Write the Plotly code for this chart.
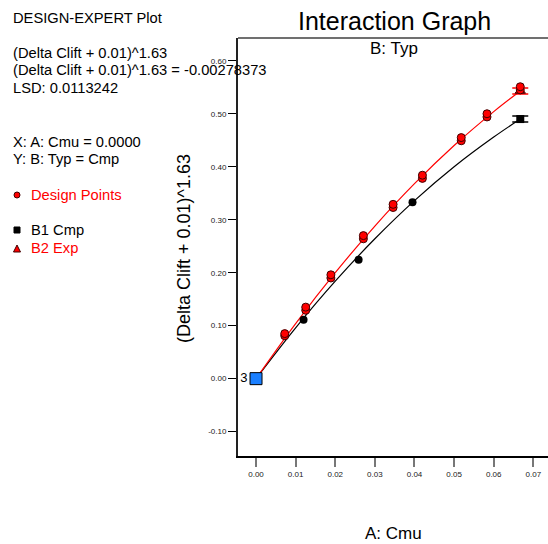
import plotly.graph_objects as go

# ---- data -----------------------------------------------------------------
# model prediction curves, response vs A: Cmu for each level of B: Typ
curve_cmu = [0.0, 0.01, 0.02, 0.03, 0.04, 0.05, 0.06, 0.0667]
curve_b1_cmp = [0.0, 0.096, 0.184, 0.264, 0.336, 0.400, 0.456, 0.490]
curve_b2_exp = [0.0, 0.104, 0.200, 0.288, 0.368, 0.440, 0.504, 0.543]

# design points (replicate runs)
b2_cmu = [0.00725, 0.00725, 0.01255, 0.01255, 0.0189, 0.0189, 0.0271, 0.0271,
          0.0346, 0.0346, 0.042, 0.042, 0.0518, 0.0518, 0.0583, 0.0583,
          0.0667, 0.0667]
b2_resp = [0.081, 0.085, 0.129, 0.135, 0.190, 0.196, 0.264, 0.270,
           0.323, 0.329, 0.378, 0.384, 0.449, 0.455, 0.494, 0.500,
           0.545, 0.551]
b1_cmu = [0.012, 0.0259, 0.0395]
b1_resp = [0.111, 0.2245, 0.333]

# centre point (3 replicates) and LSD bars at the end of each curve
center_cmu = [0.0]
center_resp = [0.0]
center_label = "3"
end_cmu = 0.0667
lsd = 0.0113242

y_ticks = [-0.10, 0.00, 0.10, 0.20, 0.30, 0.40, 0.50, 0.60]
x_ticks = [0.00, 0.01, 0.02, 0.03, 0.04, 0.05, 0.06, 0.07]

# ---- layout geometry (pixels) -------------------------------------------
W, H = 548, 544
L, R, T, B = 238, 0, 38, 88
PW, PH = W - L - R, H - T - B


def px(x):
    return (x - L) / PW


def py(y):
    return (H - B - y) / PH


FONT = "Liberation Sans, Arial, sans-serif"

fig = go.Figure()

# model curves
fig.add_trace(go.Scatter(x=curve_cmu, y=curve_b1_cmp, mode="lines",
                         line=dict(color="black", width=1.2, shape="spline"),
                         hoverinfo="skip"))
fig.add_trace(go.Scatter(x=curve_cmu, y=curve_b2_exp, mode="lines",
                         line=dict(color="red", width=1.2, shape="spline"),
                         hoverinfo="skip"))

# LSD bars at the last factor level
fig.add_trace(go.Scatter(x=[end_cmu], y=[curve_b1_cmp[-1]], mode="markers",
                         marker=dict(symbol="square", size=8, color="black"),
                         error_y=dict(type="constant", value=lsd / 2,
                                      color="black", thickness=1.5, width=8)))
fig.add_trace(go.Scatter(x=[end_cmu], y=[curve_b2_exp[-1]], mode="markers",
                         marker=dict(symbol="triangle-up", size=9, color="red",
                                     line=dict(color="#400000", width=1)),
                         error_y=dict(type="constant", value=lsd / 2,
                                      color="red", thickness=1.5, width=8)))

# design points
fig.add_trace(go.Scatter(x=b1_cmu, y=b1_resp, mode="markers",
                         marker=dict(symbol="circle", size=8, color="black")))
fig.add_trace(go.Scatter(x=b2_cmu, y=b2_resp, mode="markers",
                         marker=dict(symbol="circle", size=8, color="red",
                                     line=dict(color="#400000", width=1))))

# centre point
fig.add_trace(go.Scatter(x=center_cmu, y=center_resp, mode="markers+text",
                         text=[center_label], textposition="middle left",
                         textfont=dict(family=FONT, size=13, color="black"),
                         marker=dict(symbol="square", size=12, color="#1a7fff",
                                     line=dict(color="black", width=1))))

fig.update_layout(
    width=W, height=H,
    margin=dict(l=L, r=R, t=T, b=B, pad=0),
    paper_bgcolor="white", plot_bgcolor="white",
    showlegend=False,
    font=dict(family=FONT, color="black"),
    xaxis=dict(range=[-0.00455, 0.0737], tickvals=x_ticks,
               ticktext=[f"{v:.2f}" for v in x_ticks],
               tickfont=dict(size=8, color="#222"),
               ticks="outside", ticklen=9, tickwidth=2, tickcolor="#777",
               showline=True, linecolor="black", linewidth=2,
               showgrid=False, zeroline=False),
    yaxis=dict(range=[-0.146, 0.643], tickvals=y_ticks,
               ticktext=[f"{v:.2f}" for v in y_ticks],
               tickfont=dict(size=8, color="#222"),
               ticks="outside", ticklen=8, tickwidth=1, tickcolor="black",
               showline=True, linecolor="#222", linewidth=2,
               showgrid=False, zeroline=False),
)

# top border of the plot frame
fig.add_shape(type="line", xref="paper", yref="paper", x0=0, x1=1, y0=1, y1=1,
              line=dict(color="#707070", width=2))

# titles
anns = [
    dict(text="Interaction Graph", x=px(394), y=py(21), size=25),
    dict(text="B: Typ", x=px(394), y=py(48), size=17),
    dict(text="A: Cmu", x=px(393), y=py(533), size=17),
]
for a in anns:
    fig.add_annotation(text=a["text"], x=a["x"], y=a["y"], xref="paper",
                       yref="paper", showarrow=False, xanchor="center",
                       yanchor="middle", font=dict(size=a["size"], family=FONT))

fig.add_annotation(text="(Delta Clift + 0.01)^1.63", x=px(184), y=py(249),
                   xref="paper", yref="paper", showarrow=False, textangle=-90,
                   xanchor="center", yanchor="middle",
                   font=dict(size=18, family=FONT))

# side information block
side = [
    ("DESIGN-EXPERT Plot", 11, 18, "black"),
    ("(Delta Clift + 0.01)^1.63", 11, 53, "black"),
    ("(Delta Clift + 0.01)^1.63 = -0.00278373", 11, 70, "black"),
    ("LSD: 0.0113242", 11, 88, "black"),
    ("X: A: Cmu = 0.0000", 11, 142, "black"),
    ("Y: B: Typ = Cmp", 11, 159, "black"),
    ("Design Points", 29, 195, "red"),
    ("B1 Cmp", 29, 230, "black"),
    ("B2 Exp", 29, 248, "red"),
]
for text, x, y, col in side:
    fig.add_annotation(text=text, x=px(x), y=py(y), xref="paper", yref="paper",
                       showarrow=False, xanchor="left", yanchor="middle",
                       font=dict(size=14.7, family=FONT, color=col))

# legend glyphs
fig.add_shape(type="circle", xref="paper", yref="paper",
              x0=px(14), x1=px(20), y0=py(198), y1=py(192),
              fillcolor="red", line=dict(color="#400000", width=1))
fig.add_shape(type="rect", xref="paper", yref="paper",
              x0=px(14), x1=px(20), y0=py(233), y1=py(227),
              fillcolor="black", line=dict(color="black", width=1))
fig.add_shape(type="path", xref="paper", yref="paper",
              path=f"M {px(13.5)} {py(252)} L {px(20.5)} {py(252)} L {px(17)} {py(245)} Z",
              fillcolor="red", line=dict(color="#400000", width=1))

fig.write_html("out.html")
